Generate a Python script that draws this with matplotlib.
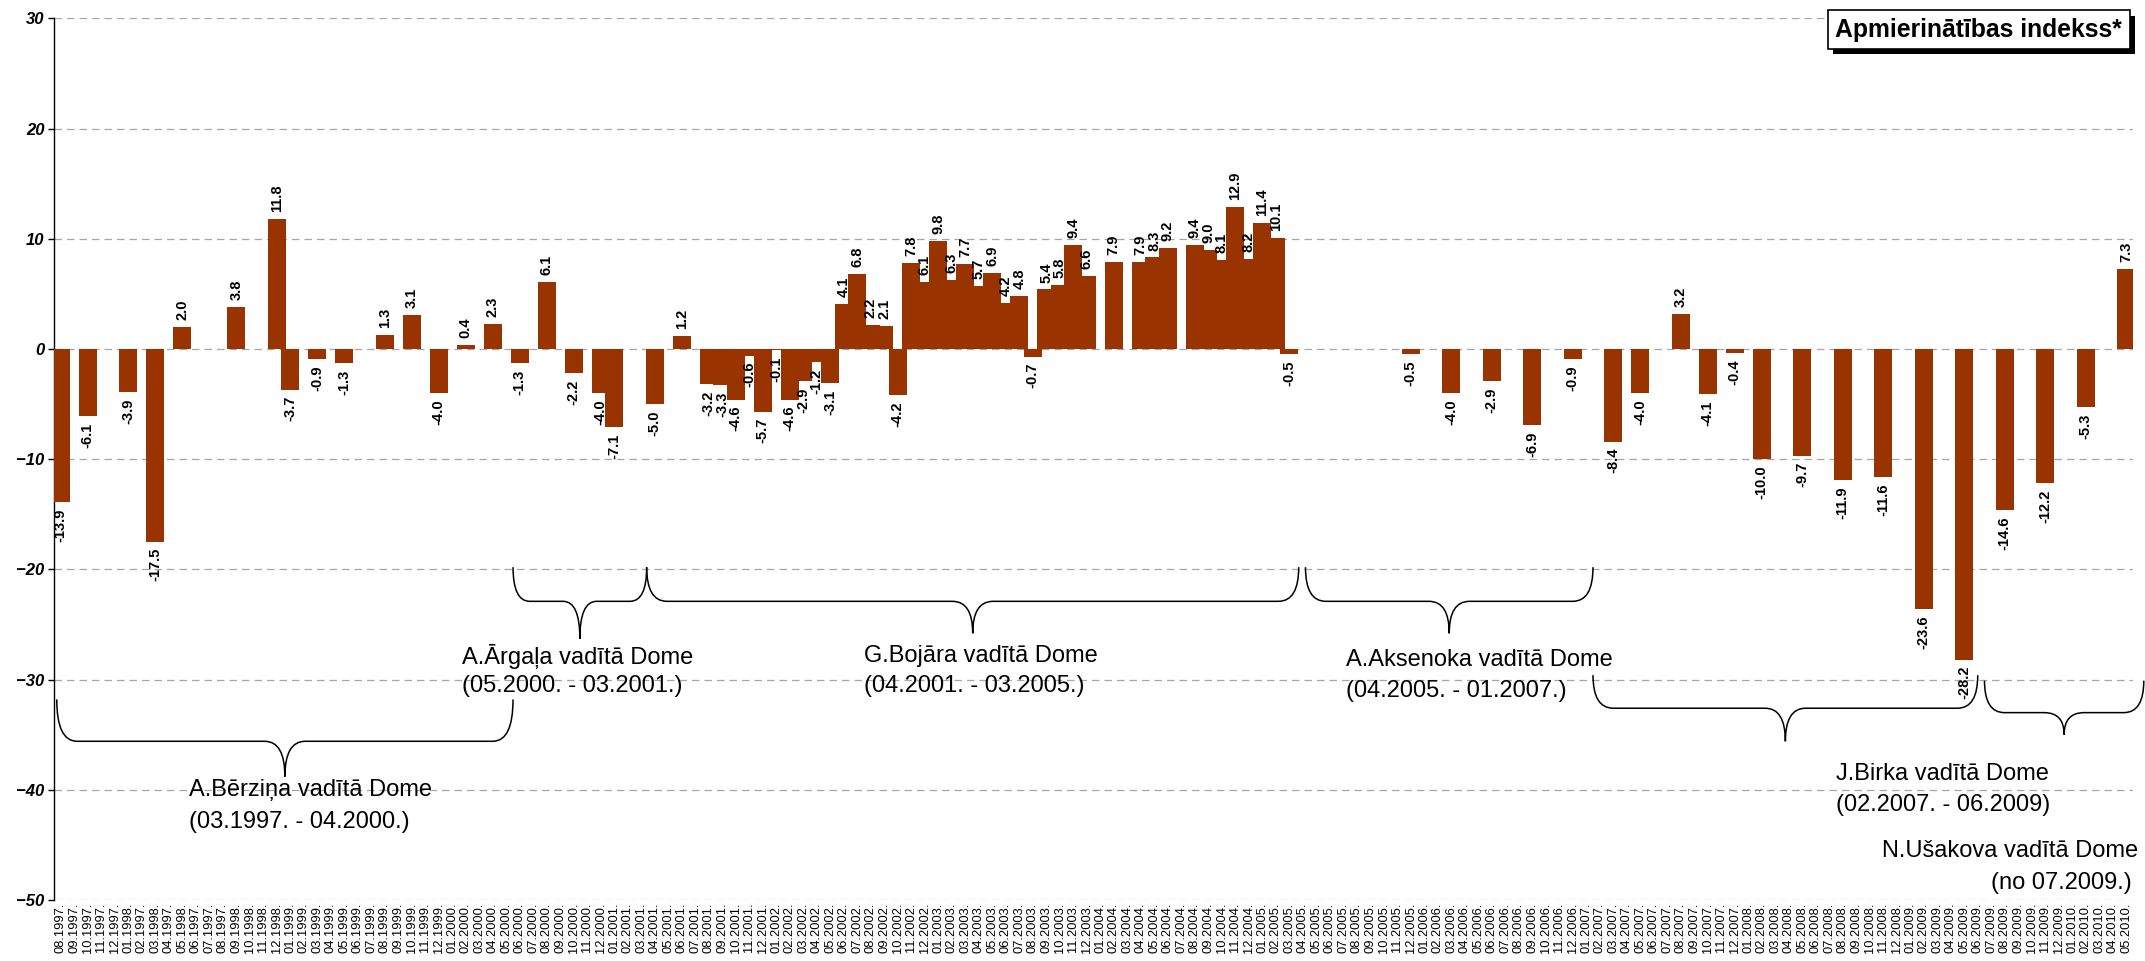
import numpy as np
import matplotlib.pyplot as plt
from matplotlib.path import Path
from matplotlib.patches import PathPatch
import matplotlib.patheffects as pe

plt.rcParams['font.family'] = ['Liberation Sans', 'DejaVu Sans']

# month labels as printed on the original chart (typos kept)
tick_labels = [
    "08.1997.", "09.1997.", "10.1997.", "11.1997.", "12.1997.",
    "01.1998.", "02.1997.", "03.1998.", "04.1997.", "05.1998.", "06.1997.",
    "07.1997.", "08.1997.", "09.1998.", "10.1998.", "11.1998.", "12.1998.",
    "01.1999.", "02.1999.", "03.1999.", "04.1999.", "05.1999.", "06.1999.",
    "07.1999.", "08.1999.", "09.1999.", "10.1999.", "11.1999.", "12.1999.",
    "01.2000.", "02.2000.", "03.2000.", "04.2000.", "05.2000.", "06.2000.",
    "07.2000.", "08.2000.", "09.2000.", "10.2000.", "11.2000.", "12.2000.",
    "01.2001.", "02.2001.", "03.2001.", "04.2001.", "05.2001.", "06.2001.",
    "07.2001.", "08.2001.", "09.2001.", "10.2001.", "11.2001.", "12.2001.",
    "01.2002.", "02.2002.", "03.2002.", "04.2002.", "05.2002.", "06.2002.",
    "07.2002.", "08.2002.", "09.2002.", "10.2002.", "11.2002.", "12.2002.",
    "01.2003.", "02.2003.", "03.2003.", "04.2003.", "05.2003.", "06.2003.",
    "07.2003.", "08.2003.", "09.2003.", "10.2003.", "11.2003.", "12.2003.",
    "01.2004.", "02.2004.", "03.2004.", "04.2004.", "05.2004.", "06.2004.",
    "07.2004.", "08.2004.", "09.2004.", "10.2004.", "11.2004.", "12.2004.",
    "01.2005.", "02.2005.", "03.2005.", "04.2005.", "05.2005.", "06.2005.",
    "07.2005.", "08.2005.", "09.2005.", "10.2005.", "11.2005.", "12.2005.",
    "01.2006.", "02.2006.", "03.2006.", "04.2006.", "05.2006.", "06.2006.",
    "07.2006.", "08.2006.", "09.2006.", "10.2006.", "11.2006.", "12.2006.",
    "01.2007.", "02.2007.", "03.2007.", "04.2007.", "05.2007.", "06.2007.",
    "07.2007.", "08.2007.", "09.2007.", "10.2007.", "11.2007.", "12.2007.",
    "01.2008.", "02.2008.", "03.2008.", "04.2008.", "05.2008.", "06.2008.",
    "07.2008.", "08.2008.", "09.2008.", "10.2008.", "11.2008.", "12.2008.",
    "01.2009.", "02.2009.", "03.2009.", "04.2009.", "05.2009.", "06.2009.",
    "07.2009.", "08.2009.", "09.2009.", "10.2009.", "11.2009.", "12.2009.",
    "01.2010.", "02.2010.", "03.2010.", "04.2010.", "05.2010.",
]

N = None
# index value per month (None = no survey that month)
values = [
    -13.9, N, -6.1, N, N,                                      # 1997 (08-12)
    -3.9, N, -17.5, N, 2.0, N, N, N, 3.8, N, N, 11.8,          # 1998
    -3.7, N, -0.9, N, -1.3, N, N, 1.3, N, 3.1, N, -4.0,        # 1999
    N, 0.4, N, 2.3, N, -1.3, N, 6.1, N, -2.2, N, -4.0,         # 2000
    -7.1, N, N, -5.0, N, 1.2, N, -3.2, -3.3, -4.6, -0.6, -5.7,  # 2001
    -0.1, -4.6, -2.9, -1.2, -3.1, 4.1, 6.8, 2.2, 2.1, -4.2, 7.8, 6.1,  # 2002
    9.8, 6.3, 7.7, 5.7, 6.9, 4.2, 4.8, -0.7, 5.4, 5.8, 9.4, 6.6,       # 2003
    N, 7.9, N, 7.9, 8.3, 9.2, N, 9.4, 9.0, 8.1, 12.9, 8.2,             # 2004
    11.4, 10.1, -0.5, N, N, N, N, N, N, N, N, -0.5,                    # 2005
    N, N, -4.0, N, N, -2.9, N, N, -6.9, N, N, -0.9,                    # 2006
    N, N, -8.4, N, -4.0, N, N, 3.2, N, -4.1, N, -0.4,                  # 2007
    N, -10.0, N, N, -9.7, N, N, -11.9, N, N, -11.6, N,                 # 2008
    N, -23.6, N, N, -28.2, N, N, -14.6, N, N, -12.2, N,                # 2009
    N, -5.3, N, N, 7.3,                                                # 2010 (01-05)
]

# council periods: name, period, brace (x0, x1, top, mid, tip), text pos
periods = [
    ("A.Bērziņa vadītā Dome", "(03.1997. - 04.2000.)"),
    ("A.Ārgaļa vadītā Dome", "(05.2000. - 03.2001.)"),
    ("G.Bojāra vadītā Dome", "(04.2001. - 03.2005.)"),
    ("A.Aksenoka vadītā Dome", "(04.2005. - 01.2007.)"),
    ("J.Birka vadītā Dome", "(02.2007. - 06.2009)"),
    ("N.Ušakova vadītā Dome", "(no 07.2009.)"),
]
braces = [
    (-0.3, 33.5, -31.8, -35.6, -38.8),
    (33.5, 43.4, -19.8, -22.9, -26.3),
    (43.4, 91.7, -19.8, -22.9, -25.8),
    (92.2, 113.5, -19.8, -22.9, -25.8),
    (113.5, 142.0, -29.6, -32.6, -35.6),
    (142.5, 154.3, -30.1, -33.0, -35.0),
]
text_pos = [
    (9.5, -40.0, -42.9, 'left'),
    (29.7, -27.9, -30.6, 'left'),
    (59.5, -27.9, -30.6, 'left'),
    (95.2, -28.2, -31.0, 'left'),
    (131.5, -38.6, -41.4, 'left'),
    (153.9, -45.6, -48.5, 'right'),
]

fig = plt.figure(figsize=(21.45, 9.61), dpi=100)
ax = fig.add_axes([0.0252, 0.0635, 0.9692, 0.9174])

x = np.arange(len(tick_labels))
idx = [i for i, v in enumerate(values) if v is not None]
# bigger bars are drawn over smaller neighbours, as in the original
idx = sorted(idx, key=lambda i: abs(values[i]))
ax.bar([x[i] for i in idx], [values[i] for i in idx], width=1.333,
       color='#993300', zorder=3)

for i in idx:
    v = values[i]
    ax.annotate(f'{v:.1f}', (x[i], v), xytext=(0, 5 if v > 0 else -4.5),
                textcoords='offset points', rotation=90, ha='center',
                va='bottom' if v > 0 else 'top', fontsize=10.5,
                fontweight='bold', zorder=5)

ax.set_xlim(-0.5, len(tick_labels) - 0.5)
ax.set_ylim(-50, 30)
ax.set_yticks(range(-50, 31, 10))
ax.set_xticks(x)
ax.set_xticklabels(tick_labels, rotation=90, fontsize=9.3)
ax.tick_params(axis='x', length=0, pad=2)
ax.tick_params(axis='y', length=4, width=1, direction='out', pad=3)
for lab in ax.get_yticklabels():
    lab.set_fontweight('bold')
    lab.set_fontstyle('italic')
    lab.set_fontsize(12)

ax.yaxis.grid(True, linestyle=(0, (6, 4)), color='#a6a6a6', linewidth=0.9, zorder=0)
ax.set_axisbelow(True)
for s in ['top', 'right', 'bottom']:
    ax.spines[s].set_visible(False)
ax.spines['left'].set_linewidth(1.0)

# curly braces under the council periods
for x0, x1, yt, ym, yp in braces:
    r = min(1.5, (x1 - x0) / 8)
    xc = (x0 + x1) / 2
    verts = [(x0, yt), (x0, ym), (x0 + r, ym), (xc - r, ym), (xc, ym), (xc, yp),
             (xc, ym), (xc + r, ym), (x1 - r, ym), (x1, ym), (x1, yt)]
    codes = [Path.MOVETO, Path.CURVE3, Path.CURVE3, Path.LINETO, Path.CURVE3,
             Path.CURVE3, Path.CURVE3, Path.CURVE3, Path.LINETO, Path.CURVE3,
             Path.CURVE3]
    ax.add_patch(PathPatch(Path(verts, codes), fill=False, lw=1.1,
                           ec='black', clip_on=False, zorder=4))

for (name, span), (tx, y1, y2, ha) in zip(periods, text_pos):
    ax.text(tx, y1, name, ha=ha, va='center', fontsize=17, clip_on=False)
    ax.text(tx - (0.5 if ha == 'right' else 0), y2, span, ha=ha, va='center',
            fontsize=17, clip_on=False)

t = fig.text(0.9225, 0.9693, 'Apmierinātības indekss*', ha='center', va='center',
             fontsize=17.8, fontweight='bold',
             bbox=dict(boxstyle='square,pad=0.3', fc='white', ec='black', lw=1.2))
t.get_bbox_patch().set_path_effects(
    [pe.withSimplePatchShadow(offset=(4, -4), shadow_rgbFace='black', alpha=1.0)])

fig.savefig('out.png', dpi=100)
